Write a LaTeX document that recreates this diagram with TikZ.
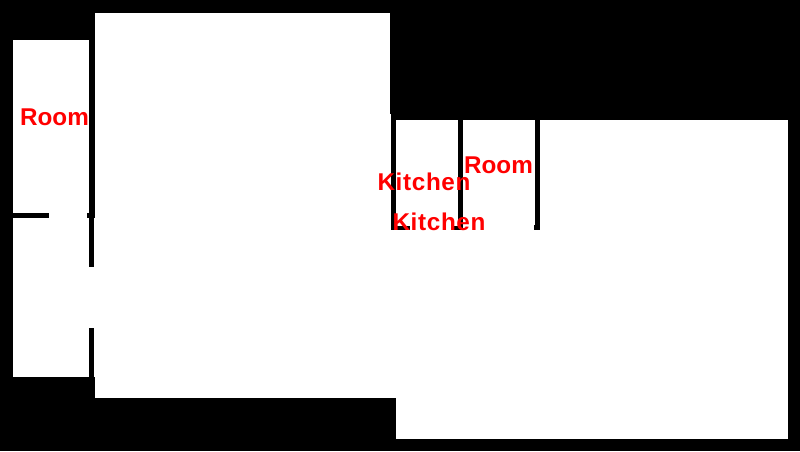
\documentclass[tikz,border=0pt]{standalone}
\usepackage{fontspec}
\setmainfont{Liberation Sans}
\newfontfamily\kitchenfont[LetterSpace=2.7]{Liberation Sans}
\tikzset{x=0.75pt, y=-0.75pt, floor/.style={fill=white}, wall/.style={fill=black},
  room/.style={text=red, font=\fontsize{18.2}{20}\bfseries, inner sep=0pt, anchor=base},
  kitchen/.style={room, font=\fontsize{18.2}{20}\bfseries\kitchenfont\bfseries}}

\begin{document}
\begin{tikzpicture}
  \fill[black] (0,0) rectangle (800,451);
  \useasboundingbox (0,0) rectangle (800,451);

  % floors
  \fill[floor] (13,40) rectangle (89,377);
  \fill[floor] (95,13) rectangle (390,398);
  \fill[floor] (396,120) rectangle (788,439);
  \fill[floor] (389,230) rectangle (397,398);
  \fill[floor] (389,114) rectangle (391,230);
  \fill[floor] (88,267) rectangle (96,328);
  \fill[floor] (94,218) rectangle (96,267);
  \fill[floor] (94,328) rectangle (96,377);

  % walls
  \fill[wall] (13,213) rectangle (49,218);
  \fill[wall] (87,213) rectangle (95,218);
  \fill[wall] (391,120) rectangle (396,230);
  \fill[wall] (458,120) rectangle (463,230);
  \fill[wall] (535,120) rectangle (540,230);
  \fill[wall] (396,226) rectangle (410,230);
  \fill[wall] (452,226) rectangle (458,230);
  \fill[wall] (534,225) rectangle (535,230);

  % labels
  \node[room] (room1) at (54.5,125) {Room};
  \node[room] (room2) at (498.5,173) {Room};
  \node[kitchen] (kitchen1) at (424,190) {Kitchen};
  \node[kitchen] (kitchen2) at (439,230) {Kitchen};
\end{tikzpicture}
\end{document}
